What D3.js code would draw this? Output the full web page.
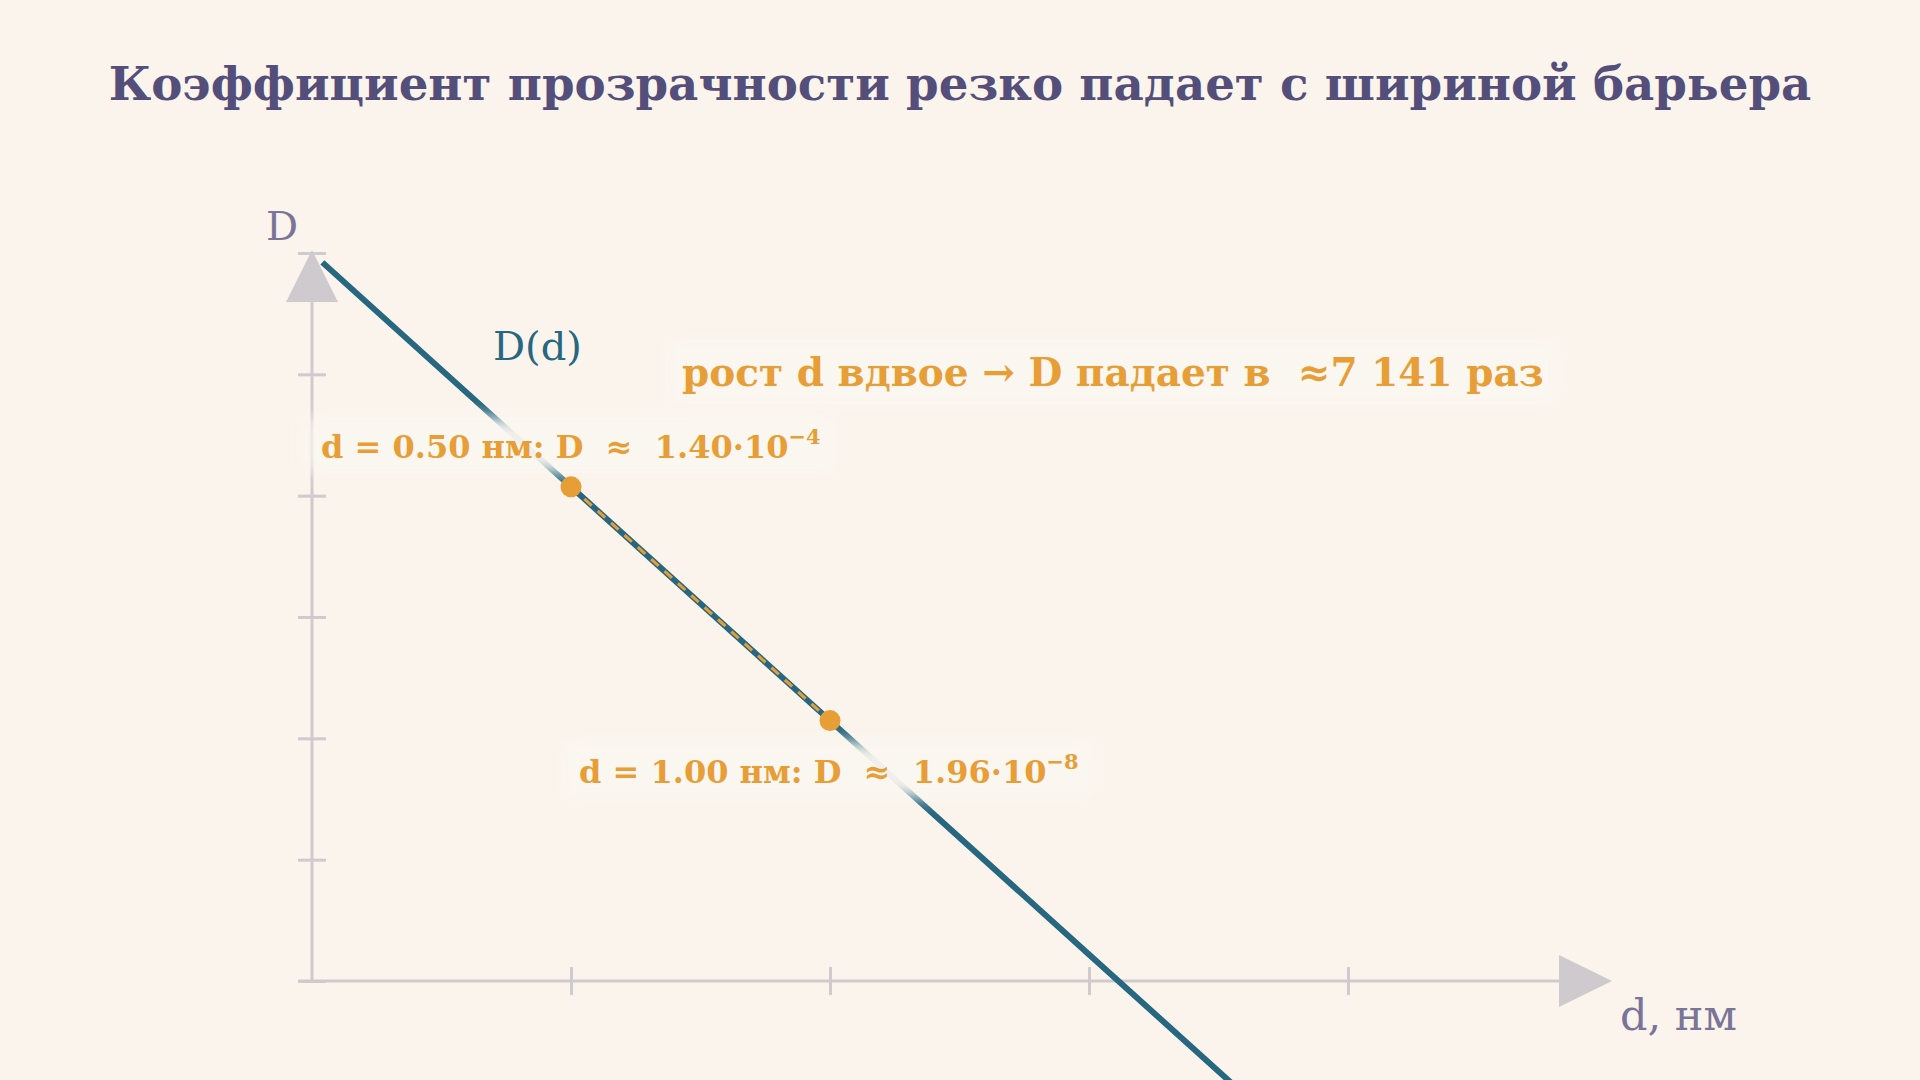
<!DOCTYPE html>
<html>
<head>
<meta charset="utf-8">
<script src="https://cdn.jsdelivr.net/npm/d3@7"></script>
<style>
  html, body { margin: 0; padding: 0; background: #faf4ec; }
  svg { display: block; }
  text { white-space: pre; }
</style>
</head>
<body>
<svg id="chart" width="1920" height="1080"></svg>
<script>
// values
const dValues = [0.02, 0.5, 1.0, 1.5, 2.0]
const DValues = [0.70, 1.40e-4, 1.96e-8, 2.74e-12, 3.84e-16]
const markedD = [0.5, 1.0]
const markedDValue = [1.40e-4, 1.96e-8]
const markedText = ["d = 0.50 нм: D  ≈  1.40·10", "d = 1.00 нм: D  ≈  1.96·10"]
const markedExp = ["−4", "−8"]
const xTicks = [0.5, 1.0, 1.5, 2.0]
const yTicks = [1e-12, 1e-10, 1e-8, 1e-6, 1e-4, 1e-2, 1]

const title = "Коэффициент прозрачности резко падает с шириной барьера"
const ratioText = "рост d вдвое → D падает в  ≈7 141 раз"
const curveName = "D(d)"
const xName = "d, нм"
const yName = "D"

const width = 1920
const height = 1080
const origin = { x: 312, y: 981 }
const colours = {
  bg: "#faf4ec",
  title: "#544e7b",
  axis: "#cfcace",
  axisText: "#7a7498",
  curve: "#27677f",
  accent: "#e89e37"
}
const serif = "'DejaVu Serif', 'Liberation Serif', serif"

const x = d3.scaleLinear().domain([0, 2.5]).range([origin.x, 1607])
const y = d3.scaleLog().domain([1e-12, 1]).range([origin.y, 253])

const svg = d3.select("#chart")

const defs = svg.append("defs")
defs.append("filter")
  .attr("id", "soft")
  .attr("x", "-20%").attr("y", "-40%")
  .attr("width", "140%").attr("height", "180%")
  .append("feGaussianBlur")
  .attr("stdDeviation", 8)

svg.append("rect")
  .attr("width", width)
  .attr("height", height)
  .attr("fill", colours.bg)

svg.append("text")
  .attr("x", width / 2)
  .attr("y", 100)
  .attr("text-anchor", "middle")
  .attr("font-family", serif)
  .attr("font-weight", "bold")
  .attr("font-size", 46.7)
  .attr("fill", colours.title)
  .text(title)

// axes
const xAxis = g =>
  g.attr("transform", `translate(0, ${origin.y})`)
    .call(d3.axisBottom(x).tickValues(xTicks).tickSize(14).tickFormat(""))
    .call(g => g.selectAll(".tick line").attr("y1", -14))
const yAxis = g =>
  g.attr("transform", `translate(${origin.x}, 0)`)
    .call(d3.axisLeft(y).tickValues(yTicks).tickSize(14).tickFormat(""))
    .call(g => g.selectAll(".tick line").attr("x1", 14))

const axes = svg.append("g")
axes.append("g").call(xAxis)
axes.append("g").call(yAxis)
axes.selectAll(".domain").remove()
axes.selectAll("line").attr("stroke", colours.axis).attr("stroke-width", 3)

axes.append("line")
  .attr("x1", 298).attr("x2", 1570)
  .attr("y1", origin.y).attr("y2", origin.y)
  .attr("stroke", colours.axis).attr("stroke-width", 3)
axes.append("line")
  .attr("x1", origin.x).attr("x2", origin.x)
  .attr("y1", origin.y).attr("y2", 290)
  .attr("stroke", colours.axis).attr("stroke-width", 3)

axes.append("path")
  .attr("d", `M${origin.x},250 L${origin.x + 26},302 L${origin.x - 26},302 Z`)
  .attr("fill", colours.axis)
axes.append("path")
  .attr("d", `M1612,${origin.y} L1559,${origin.y - 26} L1559,${origin.y + 26} Z`)
  .attr("fill", colours.axis)

svg.append("text")
  .attr("x", 266).attr("y", 240)
  .attr("font-family", serif).attr("font-size", 40)
  .attr("fill", colours.axisText)
  .text(yName)

svg.append("text")
  .attr("x", 1620).attr("y", 1030)
  .attr("font-family", serif).attr("font-size", 43)
  .attr("fill", colours.axisText)
  .text(xName)

// curve
const line = d3.line()
  .x((d, i) => x(d))
  .y((d, i) => y(DValues[i]))

svg.append("path")
  .attr("d", line(dValues))
  .attr("fill", "none")
  .attr("stroke", colours.curve)
  .attr("stroke-width", 6)

svg.append("line")
  .attr("x1", x(markedD[0])).attr("y1", y(markedDValue[0]))
  .attr("x2", x(markedD[1])).attr("y2", y(markedDValue[1]))
  .attr("stroke", colours.accent)
  .attr("stroke-width", 3)
  .attr("stroke-dasharray", "10,8")

// labels with soft halo
function haloLabel(g, pad) {
  const text = g.select("text")
  const b = text.node().getBBox()
  g.insert("rect", "text")
    .attr("x", b.x - pad).attr("y", b.y - pad / 2)
    .attr("width", b.width + pad * 2).attr("height", b.height + pad)
    .attr("fill", "#fbf7f1")
    .attr("opacity", 0.95)
    .attr("filter", "url(#soft)")
}

const labelOffsets = [{ dx: -250, dy: -29 }, { dx: -251, dy: 62 }]
markedD.forEach((d, i) => {
  const g = svg.append("g")
  const t = g.append("text")
    .attr("x", x(d) + labelOffsets[i].dx)
    .attr("y", y(markedDValue[i]) + labelOffsets[i].dy)
    .attr("font-family", serif)
    .attr("font-weight", "bold")
    .attr("font-size", 32)
    .attr("fill", colours.accent)
  t.append("tspan").text(markedText[i])
  t.append("tspan")
    .attr("dy", -14)
    .attr("font-size", 21)
    .text(markedExp[i])
  haloLabel(g, 14)
})

const nameG = svg.append("g")
nameG.append("text")
  .attr("x", 493).attr("y", 360)
  .attr("font-family", serif).attr("font-size", 40)
  .attr("fill", colours.curve)
  .text(curveName)

const ratioG = svg.append("g")
ratioG.append("text")
  .attr("x", 682).attr("y", 386)
  .attr("font-family", serif)
  .attr("font-weight", "bold")
  .attr("font-size", 39)
  .attr("fill", colours.accent)
  .text(ratioText)
haloLabel(ratioG, 14)

svg.append("g")
  .selectAll("circle")
  .data(markedD)
  .enter()
  .append("circle")
  .attr("cx", d => x(d))
  .attr("cy", (d, i) => y(markedDValue[i]))
  .attr("r", 10.5)
  .attr("fill", colours.accent)
</script>
</body>
</html>
